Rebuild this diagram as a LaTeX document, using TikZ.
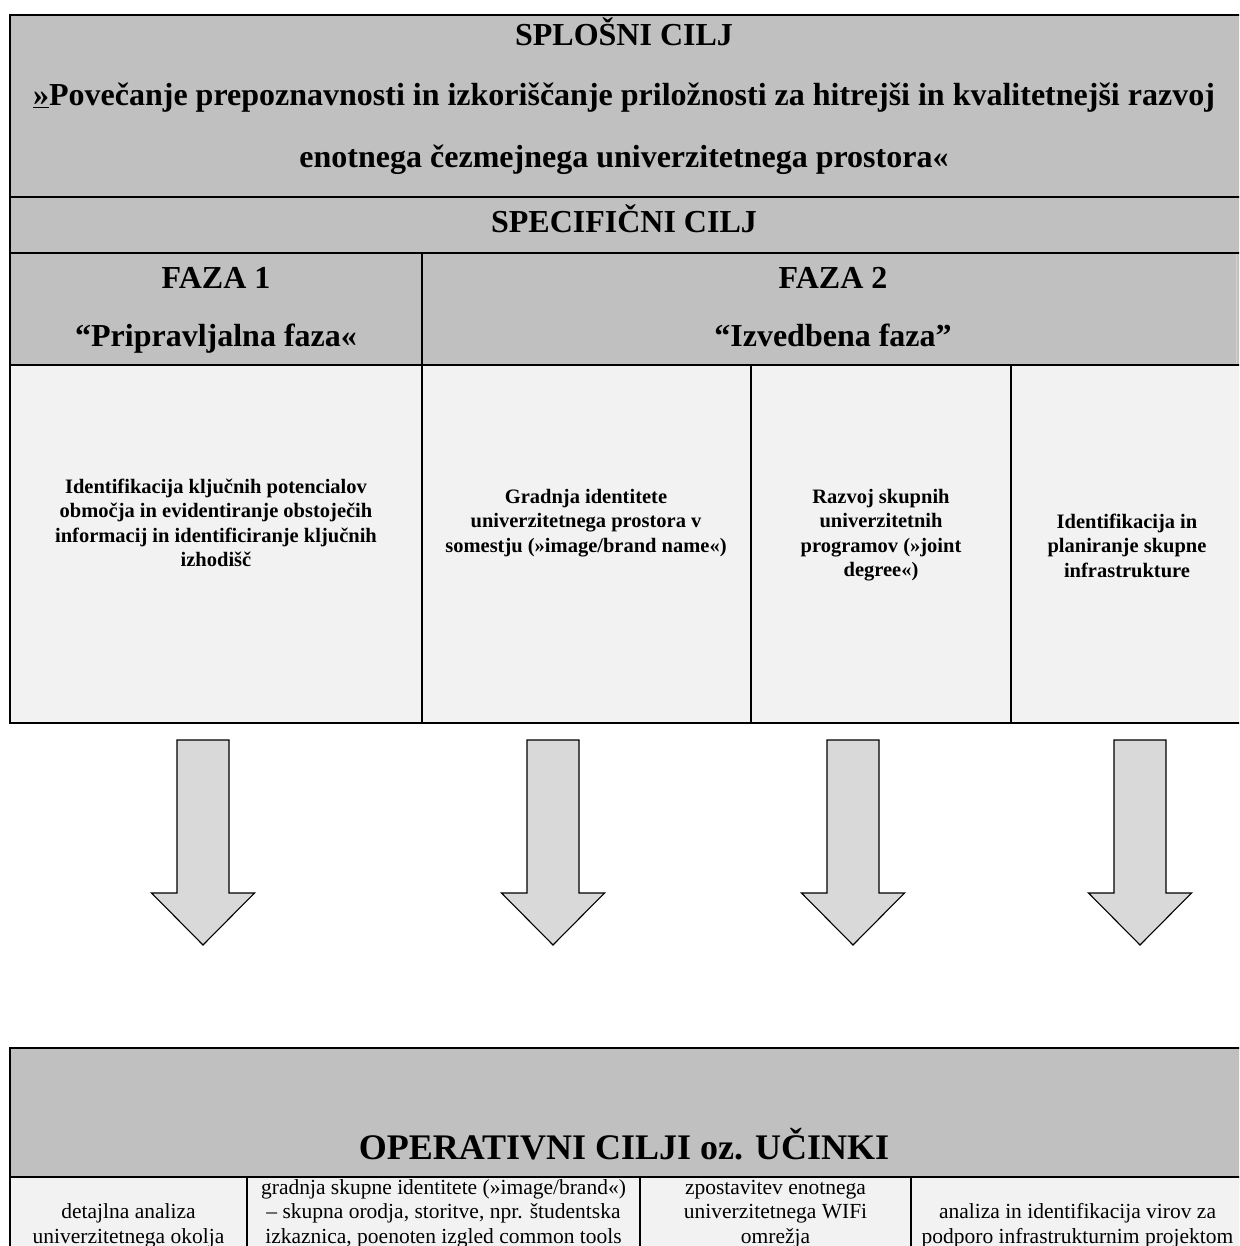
\documentclass[tikz,border=0pt]{standalone}
\usepackage{fontspec}
\setmainfont{Liberation Serif}
\usetikzlibrary{calc}
\definecolor{hdrgray}{RGB}{192,192,192}
\definecolor{cellgray}{RGB}{242,242,242}
\definecolor{arrowgray}{RGB}{217,217,217}
\definecolor{seamgray}{RGB}{210,210,210}
\tikzset{
  tline/.style={line width=2.2pt, black},
  hdtext/.style={font=\fontsize{32}{38}\selectfont\bfseries, inner sep=0pt, anchor=base},
  optext/.style={font=\fontsize{36}{42}\selectfont\bfseries, inner sep=0pt, anchor=base},
  boxtext/.style={font=\fontsize{20.5}{24.5}\selectfont\bfseries, align=center, inner sep=0pt, anchor=north},
  celltext/.style={font=\fontsize{21.5}{24.5}\selectfont, align=center, inner sep=0pt, anchor=north},
  blockarrow/.style={fill=arrowgray, draw=black, line width=1.1pt, line join=miter}
}
\newcommand\blkarrow[2]{%
  \coordinate (#1) at (#2,740);
  \path[blockarrow] ($(#1)+(-26,0)$) -- ++(52,0) -- ++(0,153) -- ++(25.5,0)
    -- ($(#1)+(0,205)$) -- ($(#1)+(-51.5,153)$) -- ++(25.5,0) -- cycle;
}
\begin{document}
\begin{tikzpicture}[x=1pt,y=-1pt]
\useasboundingbox (0,0) rectangle (1239,1246);
\fill[white] (0,0) rectangle (1239,1246);
\begin{scope}
\clip (0,0) rectangle (1239,1246);
% ---------- upper table ----------
\fill[hdrgray] (10,15) rectangle (1270,365);
\fill[cellgray] (10,365) rectangle (1270,723);
\draw[seamgray, line width=0.8pt] (1236,253) -- (1236,365);
\draw[tline] (1270,15) -- (10,15) -- (10,723) -- (1270,723);
\draw[tline] (10,197) -- (1270,197);
\draw[tline] (10,253) -- (1270,253);
\draw[tline] (10,365) -- (1270,365);
\draw[tline] (422,253) -- (422,723);
\draw[tline] (751,365) -- (751,723);
\draw[tline] (1011,365) -- (1011,723);

\node[hdtext] (splosni) at (624,46) {SPLOŠNI CILJ};
\node[hdtext] (cilj1) at (624,106) {\underline{»}Povečanje prepoznavnosti in izkoriščanje priložnosti za hitrejši in kvalitetnejši razvoj};
\node[hdtext] (cilj2) at (624,168) {enotnega čezmejnega univerzitetnega prostora«};
\node[hdtext] (specif) at (624,233) {SPECIFIČNI CILJ};
\node[hdtext] (faza1) at (216,288) {FAZA 1};
\node[hdtext] (faza1b) at (216,346) {“Pripravljalna faza«};
\node[hdtext] (faza2) at (833,288) {FAZA 2};
\node[hdtext] (faza2b) at (833,346) {“Izvedbena faza”};

\node[boxtext] (box1) at (216,476) {\strut Identifikacija ključnih potencialov\\območja in evidentiranje obstoječih\\informacij in identificiranje ključnih\\izhodišč};
\node[boxtext] (box2) at (586,486) {\strut Gradnja identitete\\univerzitetnega prostora v\\somestju (»image/brand name«)};
\node[boxtext] (box3) at (881,486) {\strut Razvoj skupnih\\univerzitetnih\\programov (»joint\\degree«)};
\node[boxtext] (box4) at (1127,511) {\strut Identifikacija in\\planiranje skupne\\infrastrukture};

% ---------- arrows ----------
\blkarrow{a1}{203}
\blkarrow{a2}{553}
\blkarrow{a3}{853}
\blkarrow{a4}{1140}

% ---------- lower table ----------
\fill[hdrgray] (10,1048) rectangle (1270,1177);
\fill[cellgray] (10,1177) rectangle (1270,1270);
\draw[tline] (1270,1048) -- (10,1048) -- (10,1270);
\draw[tline] (10,1177) -- (1270,1177);
\draw[tline] (247,1177) -- (247,1270);
\draw[tline] (640,1177) -- (640,1270);
\draw[tline] (911,1177) -- (911,1270);

\node[optext] (oper) at (624,1159) {OPERATIVNI CILJI oz. UČINKI};
\node[celltext] (c1) at (128.5,1201.4) {\strut detajlna analiza\\univerzitetnega okolja};
\node[celltext] (c2) at (443.5,1176.9) {\strut gradnja skupne identitete (»image/brand«)\\– skupna orodja, storitve, npr. študentska\\izkaznica, poenoten izgled common tools};
\node[celltext] (c3) at (775.5,1176.9) {\strut zpostavitev enotnega\\univerzitetnega WIFi\\omrežja};
\node[celltext] (c4) at (1077.5,1201.4) {\strut analiza in identifikacija virov za\\podporo infrastrukturnim projektom};
\end{scope}
\end{tikzpicture}
\end{document}
